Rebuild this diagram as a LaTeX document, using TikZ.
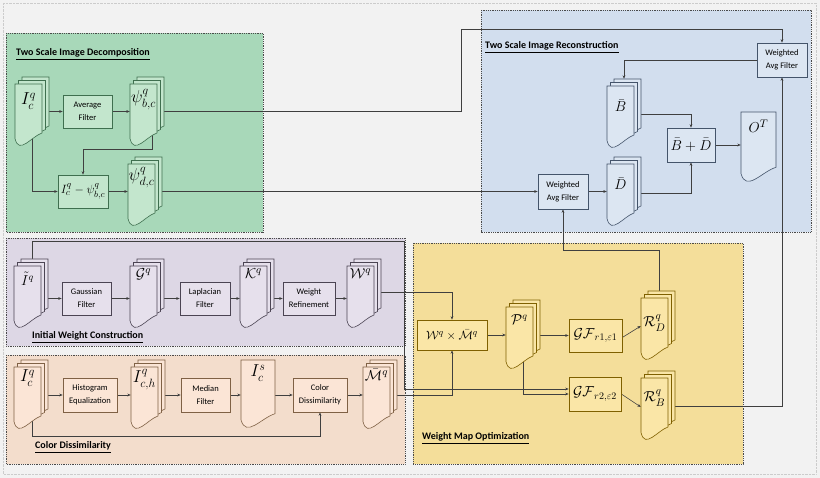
\documentclass[tikz,border=0pt]{standalone}
\usepackage{amsmath,amssymb}
\usepackage[no-math]{fontspec}
\setmainfont{Carlito}
\usepackage{tikz}
\usetikzlibrary{calc,arrows.meta}

\definecolor{canvas}{HTML}{F2F2F2}
\definecolor{linegray}{HTML}{3F3F3F}
\definecolor{zonegray}{HTML}{4A4A4A}
\definecolor{zgreen}{HTML}{A8D8B9}
\definecolor{gfill}{HTML}{C3E6CD}
\definecolor{gline}{HTML}{3F6F4F}
\definecolor{zblue}{HTML}{D2DEEE}
\definecolor{bfill}{HTML}{DCE6F2}
\definecolor{bline}{HTML}{44546A}
\definecolor{zpurple}{HTML}{DDD7E5}
\definecolor{pfill}{HTML}{E6E0EC}
\definecolor{pline}{HTML}{4B4453}
\definecolor{zpeach}{HTML}{F3DDCC}
\definecolor{cfill}{HTML}{FBE5D6}
\definecolor{cline}{HTML}{7F6145}
\definecolor{zyellow}{HTML}{F4DE9A}
\definecolor{yfill}{HTML}{FAE6A7}
\definecolor{yline}{HTML}{7F6000}

\pgfdeclarelayer{zone}
\pgfdeclarelayer{back}
\pgfsetlayers{zone,back,main}

\newcommand{\sheet}[5]{%
  \filldraw[#1] ({#2-0.5*#4},{#3-0.5*#5}) -- ({#2+0.5*#4},{#3-0.5*#5})
    -- ({#2+0.5*#4},{#3+0.29*#5})
    .. controls ({#2+0.1*#4},{#3+0.35*#5}) and ({#2-0.35*#4},{#3+0.65*#5})
    .. ({#2-0.5*#4},{#3+0.38*#5}) -- cycle;}
\newcommand{\pages}[6][]{%
  \sheet{#5}{#3+7}{#4-7}{27}{62}%
  \sheet{#5}{#3+3.5}{#4-3.5}{27}{62}%
  \sheet{#5}{#3}{#4}{27}{62}%
  \node (#2) at (#3,#4) [doctext,#1] {#6};}
\newcommand{\page}[8][]{%
  \sheet{#7}{#3}{#4}{#5}{#6}%
  \node (#2) at (#3,#4) [doctext,minimum width=#5pt,minimum height=#6pt,#1] {#8};}

\begin{document}
\begin{tikzpicture}
[x=1pt,y=-1pt,inner sep=1pt,
conn/.style={draw=linegray,line width=0.6pt,-{Stealth[length=3.5pt,width=2.8pt]}},
zonebox/.style={draw=zonegray,densely dotted,line width=0.8pt},
box/.style={minimum height=33pt,align=center,line width=0.6pt,font=\fontsize{8.5}{13}\selectfont},
gbox/.style={box,draw=gline,fill=gfill},
bbox/.style={box,draw=bline,fill=bfill},
pbox/.style={box,draw=pline,fill=pfill},
cbox/.style={box,draw=cline,fill=cfill},
ybox/.style={box,draw=yline,fill=yfill,font=\fontsize{14}{16}\selectfont},
gdoc/.style={draw=gline,fill=gfill,line width=0.6pt},
bdoc/.style={draw=bline,fill=bfill,line width=0.6pt},
pdoc/.style={draw=pline,fill=pfill,line width=0.6pt},
cdoc/.style={draw=cline,fill=cfill,line width=0.6pt},
ydoc/.style={draw=yline,fill=yfill,line width=0.6pt},
doctext/.style={inner sep=0pt,minimum width=27pt,minimum height=62pt,text depth=26pt,font=\fontsize{17}{19}\selectfont},
title/.style={anchor=base west,inner sep=0pt,font=\fontsize{10}{12}\selectfont\bfseries}]
\useasboundingbox (0,0) rectangle (820,478);

\begin{pgfonlayer}{zone}
\fill[canvas] (0,0) rectangle (820,478);
\draw[black!20,densely dotted] (3,3) rectangle (816,474);
\filldraw[zonebox,fill=zgreen] (6,33) rectangle (263,232);
\filldraw[zonebox,fill=zblue] (481,10) rectangle (811,232);
\filldraw[zonebox,fill=zpurple] (6,238) rectangle (405,346);
\filldraw[zonebox,fill=zpeach] (6,355) rectangle (405,464);
\filldraw[zonebox,fill=zyellow] (413,243) rectangle (743,464);
\end{pgfonlayer}

\node (tdec) at (16,56) [title] {\underline{Two Scale Image Decomposition}};
\node (trec) at (485,49) [title] {\underline{Two Scale Image Reconstruction}};
\node (tini) at (32,339) [title] {\underline{Initial Weight Construction}};
\node (tcol) at (35,449) [title] {\underline{Color Dissimilarity}};
\node (topt) at (422,440) [title] {\underline{Weight Map Optimization}};

\pages[text depth=32pt]{ica}{28.5}{115}{gdoc}{$I_c^q$}
\node (avg) at (87.5,111.5) [gbox,minimum width=49pt] {Average\\Filter};
\pages[text depth=38pt]{psib}{143.5}{115}{gdoc}{$\psi_{b,c}^q$}
\node (diff) at (83,191.5) [gbox,minimum width=50pt,font=\fontsize{13}{15}\selectfont] {$I_c^q-\psi_{b,c}^q$};
\pages[text depth=42pt]{psid}{141.5}{195}{gdoc}{$\psi_{d,c}^q$}

\node (wafa) at (782,60) [bbox,minimum width=50pt,minimum height=34pt] {Weighted\\Avg Filter};
\pages[text depth=22pt,font=\fontsize{15}{17}\selectfont]{bbar}{620.5}{117}{bdoc}{$\bar{B}$}
\node (sum) at (691,145) [bbox,minimum width=48pt,minimum height=34pt,font=\fontsize{15}{17}\selectfont] {$\bar{B}+\bar{D}$};
\page[text depth=42pt,font=\fontsize{15}{17}\selectfont]{out}{758.5}{147}{35}{70}{bdoc}{$O^T$}
\pages[text depth=22pt,font=\fontsize{15}{17}\selectfont]{dbar}{620.5}{195}{bdoc}{$\bar{D}$}
\node (wafb) at (563,191.5) [bbox,minimum width=50pt,minimum height=35pt] {Weighted\\Avg Filter};

\pages[text depth=36pt,font=\fontsize{14}{16}\selectfont]{iq}{27.5}{297}{pdoc}{$\tilde{I}^q$}
\node (gau) at (86.5,298.5) [pbox,minimum width=49pt] {Gaussian\\Filter};
\pages[text depth=46pt,font=\fontsize{15}{17}\selectfont]{gq}{143.5}{297}{pdoc}{$\mathcal{G}^q$}
\node (lap) at (205,298.5) [pbox,minimum width=50pt] {Laplacian\\Filter};
\pages[text depth=46pt,font=\fontsize{15}{17}\selectfont]{kq}{253.5}{297}{pdoc}{$\mathcal{K}^q$}
\node (ref) at (309,298.5) [pbox,minimum width=52pt] {Weight\\Refinement};
\pages[text depth=46pt,font=\fontsize{15}{17}\selectfont]{wq}{360.5}{297}{pdoc}{$\mathcal{W}^q$}

\pages[text depth=44pt]{icb}{27.5}{398}{cdoc}{$I_c^q$}
\node (his) at (90,395) [cbox,minimum width=54pt,minimum height=34pt] {Histogram\\Equalization};
\pages[text depth=44pt]{ich}{144.5}{398}{cdoc}{$I_{c,h}^q$}
\node (med) at (205.5,395) [cbox,minimum width=49pt,minimum height=34pt] {Median\\Filter};
\page[text depth=46pt]{ics}{258}{394}{34}{68}{cdoc}{$I_c^s$}
\node (cdis) at (320,395) [cbox,minimum width=54pt,minimum height=34pt] {Color\\Dissimilarity};
\pages[text depth=46pt,font=\fontsize{15}{17}\selectfont]{mbar}{376.5}{398}{cdoc}{$\bar{\mathcal{M}}^q$}

\node (mul) at (452,335) [ybox,minimum width=70pt,minimum height=30pt,font=\fontsize{13}{15}\selectfont] {$\mathcal{W}^q\times\bar{\mathcal{M}}^q$};
\pages[text depth=36pt,font=\fontsize{14}{16}\selectfont]{pq}{519.5}{338}{ydoc}{$\mathcal{P}^q$}
\node (gfa) at (595.5,335.5) [ybox,minimum width=53pt] {$\mathcal{GF}_{r1,\varepsilon1}$};
\node (gfb) at (595,394) [ybox,minimum width=52pt,minimum height=34pt] {$\mathcal{GF}_{r2,\varepsilon2}$};
\pages[text depth=16pt,font=\fontsize{15}{17}\selectfont]{rd}{654.5}{329}{ydoc}{$\mathcal{R}_D^q$}
\pages[text depth=26pt,font=\fontsize{15}{17}\selectfont]{rb}{654.5}{409}{ydoc}{$\mathcal{R}_B^q$}

\coordinate (upb) at (461,29);
\coordinate (midb) at (83,149);
\coordinate (itop) at (404,241);
\coordinate (idown) at (404,389);
\coordinate (cbot) at (32,436);
\coordinate (rdtop) at (659,250);

\begin{pgfonlayer}{back}
\draw[conn] (ica |- avg.west) -- (avg.west);
\draw[conn] (avg.east) -- (avg.east -| psib.west);
\draw[conn] (psib |- avg.east) -| (upb) -| (wafa.north);
\draw[conn] ([xshift=8.5pt]psib.center) |- (midb) -- (diff.north);
\draw[conn] ([xshift=3.5pt]ica.center) |- (diff.west);
\draw[conn] (diff.east) -- (diff.east -| psid.west);
\draw[conn] (psid |- wafb.west) -- (wafb.west);
\draw[conn] (wafb.east) -- (wafb.east -| dbar.west);
\draw[conn] (wafa.west) -| ([xshift=3.5pt,yshift=7pt]bbar.north);
\draw[conn] ([yshift=3pt]bbar.center) -| (sum.north);
\draw[conn] ([yshift=2pt]dbar.center) -| (sum.south);
\draw[conn] (sum.east) -- (sum.east -| out.west);

\draw[conn] (iq |- gau.west) -- (gau.west);
\draw[conn] (gau.east) -- (gau.east -| gq.west);
\draw[conn] (gq |- lap.west) -- (lap.west);
\draw[conn] (lap.east) -- (lap.east -| kq.west);
\draw[conn] (kq |- ref.west) -- (ref.west);
\draw[conn] (ref.east) -- (ref.east -| wq.west);
\draw[conn] ([yshift=5pt]wq.center) -| (mul.north);
\draw[conn] ([xshift=4.5pt]iq.center) |- (itop) -- (idown) -- (idown -| gfb.west);

\draw[conn] (icb |- his.west) -- (his.west);
\draw[conn] (his.east) -- (his.east -| ich.west);
\draw[conn] (ich |- med.west) -- (med.west);
\draw[conn] (med.east) -- (med.east -| ics.west);
\draw[conn] (ics |- cdis.west) -- (cdis.west);
\draw[conn] (cdis.east) -- (cdis.east -| mbar.west);
\draw[conn] ([xshift=4.5pt]icb.center) -- (cbot) -| (cdis.south);
\draw[conn] ([yshift=3pt]mbar.center) -| (mul.south);

\draw[conn] (mul.east) -- (mul.east -| pq.west);
\draw[conn] (pq |- gfa.west) -- (gfa.west);
\draw[conn] ([xshift=3.5pt]pq.center) |- (gfb.west);
\draw[conn] ([yshift=-2pt]gfa.east) -- ([yshift=3pt]rd.west);
\draw[conn] (gfb.east) -- ([yshift=2pt]rb.west);
\draw[conn] ([xshift=4.5pt]rd.center) -- (rdtop) -| (wafb.south);
\draw[conn] ([yshift=3pt]rb.center) -| (wafa.south);
\end{pgfonlayer}
\end{tikzpicture}
\end{document}
